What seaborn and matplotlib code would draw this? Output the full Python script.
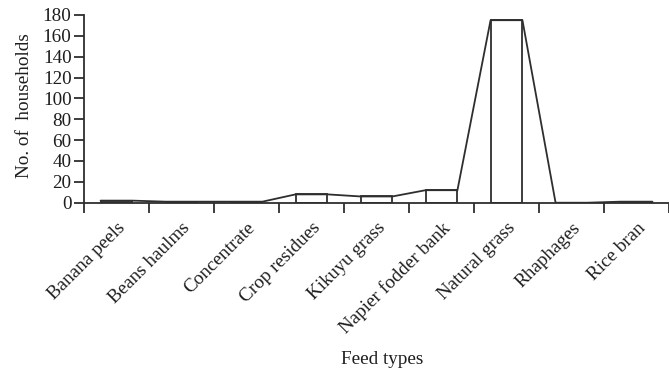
import matplotlib
matplotlib.use("Agg")
import matplotlib.pyplot as plt
import seaborn as sns
import numpy as np
import pandas as pd

# Number of households using each feed type
feed_types = ["Banana peels", "Beans haulms", "Concentrate", "Crop residues",
              "Kikuyu grass", "Napier fodder bank", "Natural grass",
              "Rhaphages", "Rice bran"]
households = [2, 1, 1, 8, 6, 12, 175, 0, 1]
y_ticks = [0, 20, 40, 60, 80, 100, 120, 140, 160, 180]

ink = "#2e2e2e"
text_col = "#1e1e1e"
fs = 13.8
sns.set_style("ticks")
plt.rcParams["font.family"] = ["Liberation Serif", "DejaVu Serif"]

fig = plt.figure(figsize=(6.69, 3.71), dpi=100)
ax = fig.add_axes([0.1256, 0.4536, 0.8744, 0.506])

df = pd.DataFrame({"feed": feed_types, "n": households})
bar_w = 0.49
sns.barplot(data=df, x="feed", y="n", ax=ax, color="white",
            edgecolor=ink, linewidth=1.3, width=bar_w, saturation=1)

# polygon joining the bar tops from edge to edge
pos = np.arange(len(feed_types))
edge_x = np.ravel(np.column_stack([pos - bar_w / 2, pos + bar_w / 2]))
edge_y = np.repeat(households, 2)
sns.lineplot(x=edge_x, y=edge_y, ax=ax, color=ink, linewidth=1.3,
             sort=False, estimator=None)

ax.set_xlim(-0.5, -0.5 + (669 - 84) / 66.2)
ax.set_ylim(0, 180)
ax.set_yticks(y_ticks)
ax.set_xticks(pos)
ax.set_xticklabels(feed_types, rotation=45, ha="right",
                   rotation_mode="anchor", fontsize=fs, color=text_col)
ax.set_xticks(np.arange(len(feed_types) + 1) - 0.5, minor=True)
ax.tick_params(axis="x", which="major", length=0, pad=12)
ax.tick_params(axis="x", which="minor", length=7, width=1.3, color=ink)
ax.tick_params(axis="y", length=7, width=1.3, color=ink, labelsize=fs,
               pad=2, labelcolor=text_col)

for s in ["top", "right"]:
    ax.spines[s].set_visible(False)
for s in ["left", "bottom"]:
    ax.spines[s].set_color(ink)
    ax.spines[s].set_linewidth(1.3)

ax.set_xlabel("")
ax.set_ylabel("No. of  households", fontsize=fs, color=text_col)
ax.yaxis.set_label_coords(-0.088, 0.52)
fig.text(382 / 669, 1 - 360 / 371, "Feed types", ha="center", va="center",
         fontsize=fs, color=text_col)

fig.savefig("out.png", dpi=100)
